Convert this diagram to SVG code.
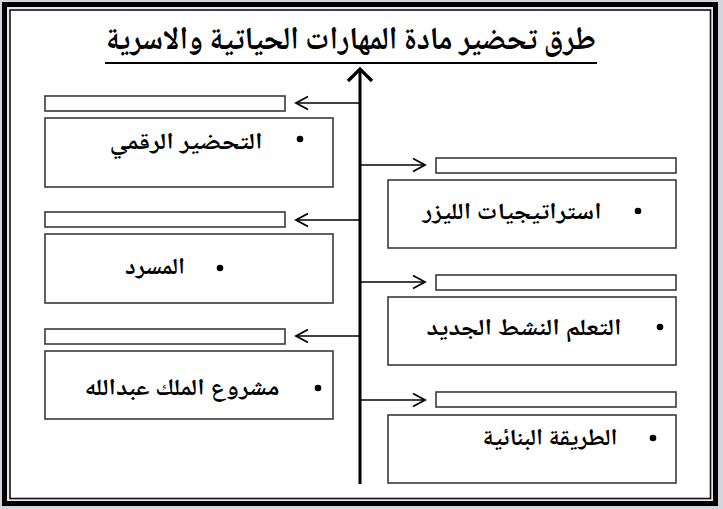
<svg xmlns="http://www.w3.org/2000/svg" width="723" height="509" viewBox="0 0 723 509">
<defs>
<style>
.box{fill:#fff;stroke:#3a3a3a;stroke-width:1.6}
.bar{fill:#fff;stroke:#3a3a3a;stroke-width:1.6}
.conn{stroke:#000;stroke-width:1.6;fill:none}
.spine{stroke:#000;stroke-width:3;fill:none}
.t{font-family:"Noto Naskh Arabic","DejaVu Sans",sans-serif;font-weight:bold;fill:#000;text-anchor:middle}
.lbl{font-size:23px}
.title{font-size:32px}
.dot{fill:#000}
</style>
<marker id="ah" viewBox="0 0 16 16" refX="14" refY="8" markerWidth="16" markerHeight="16" markerUnits="userSpaceOnUse" orient="auto">
<path d="M2,1.5 L14,8 L2,14.5" fill="none" stroke="#000" stroke-width="1.8"/>
</marker>
<marker id="ahUp" viewBox="0 0 28 28" refX="25" refY="14" markerWidth="28" markerHeight="28" markerUnits="userSpaceOnUse" orient="auto">
<path d="M13,2 L25,14 L13,26" fill="none" stroke="#000" stroke-width="3.2"/>
</marker>
</defs>
<rect x="0" y="0" width="723" height="509" fill="#d3d6db"/>
<rect x="4.5" y="4.5" width="711" height="499" fill="#e9eaec" stroke="#000" stroke-width="5"/>
<rect x="10" y="10" width="700.5" height="488.5" fill="#fff" stroke="#111" stroke-width="1.6"/>

<g id="title">
<text class="t title" x="351" y="49" textLength="490" lengthAdjust="spacingAndGlyphs">طرق تحضير مادة المهارات الحياتية والاسرية</text>
<line x1="105" y1="63" x2="597" y2="63" stroke="#000" stroke-width="2.2"/>
</g>

<g id="connectors">
<line class="spine" x1="360" y1="484" x2="360" y2="69" marker-end="url(#ahUp)"/>
<line class="conn" x1="360" y1="103" x2="296" y2="103" marker-end="url(#ah)"/>
<line class="conn" x1="360" y1="220" x2="296" y2="220" marker-end="url(#ah)"/>
<line class="conn" x1="360" y1="336" x2="296" y2="336" marker-end="url(#ah)"/>
<line class="conn" x1="360" y1="165" x2="425" y2="165" marker-end="url(#ah)"/>
<line class="conn" x1="360" y1="282" x2="425" y2="282" marker-end="url(#ah)"/>
<line class="conn" x1="360" y1="400" x2="425" y2="400" marker-end="url(#ah)"/>
</g>

<g id="node-digital">
<rect class="bar" x="45" y="96" width="240" height="15"/>
<rect class="box" x="45" y="118" width="288" height="69"/>
<circle class="dot" cx="300" cy="139" r="3.3"/>
<text class="t lbl" x="186" y="149" textLength="153" lengthAdjust="spacingAndGlyphs">التحضير الرقمي</text>
</g>

<g id="node-theatre">
<rect class="bar" x="45" y="212" width="240" height="15"/>
<rect class="box" x="45" y="234" width="288" height="69"/>
<circle class="dot" cx="220" cy="268" r="3.3"/>
<text class="t lbl" x="155" y="274" textLength="60" lengthAdjust="spacingAndGlyphs">المسرد</text>
</g>

<g id="node-king">
<rect class="bar" x="45" y="329" width="240" height="15"/>
<rect class="box" x="45" y="351" width="288" height="68"/>
<circle class="dot" cx="318" cy="388" r="3.3"/>
<text class="t lbl" x="182" y="395" textLength="195" lengthAdjust="spacingAndGlyphs">مشروع الملك عبدالله</text>
</g>

<g id="node-laser">
<rect class="bar" x="436" y="158" width="240" height="15"/>
<rect class="box" x="388" y="180" width="288" height="68"/>
<circle class="dot" cx="638" cy="211" r="3.3"/>
<text class="t lbl" x="512" y="219" textLength="179" lengthAdjust="spacingAndGlyphs">استراتيجيات الليزر</text>
</g>

<g id="node-active">
<rect class="bar" x="436" y="275" width="240" height="15"/>
<rect class="box" x="388" y="297" width="288" height="68"/>
<circle class="dot" cx="660" cy="327" r="3.3"/>
<text class="t lbl" x="524" y="335" textLength="195" lengthAdjust="spacingAndGlyphs">التعلم النشط الجديد</text>
</g>

<g id="node-constructive">
<rect class="bar" x="436" y="392" width="240" height="15"/>
<rect class="box" x="388" y="415" width="288" height="68"/>
<circle class="dot" cx="653" cy="438" r="3.3"/>
<text class="t lbl" x="550" y="445" textLength="135" lengthAdjust="spacingAndGlyphs">الطريقة البنائية</text>
</g>
</svg>
